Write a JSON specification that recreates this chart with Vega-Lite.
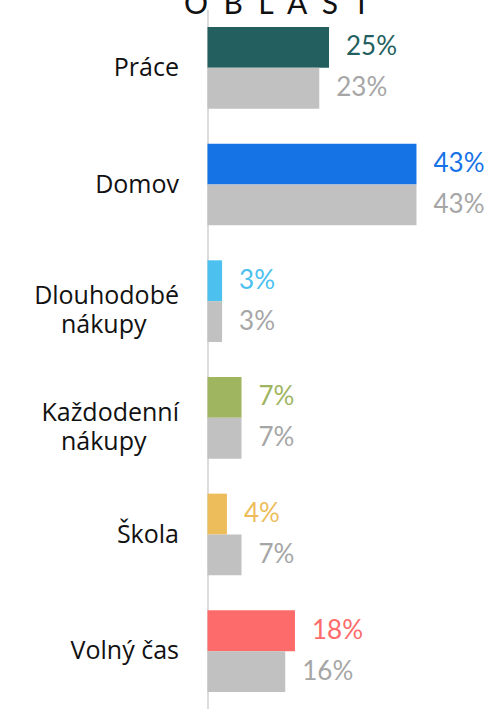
{
  "$schema": "https://vega.github.io/schema/vega-lite/v6.json",
  "width": 243,
  "height": 700,
  "autosize": {"type": "none"},
  "padding": {"left": 207.5, "top": 9.5, "right": 39.5, "bottom": 0},
  "background": "white",
  "config": {"view": {"stroke": null}, "font": "Lato"},
  "data": {
    "values": [
      {"oblast": "Práce", "serie": "aktuální", "value": 0.25},
      {"oblast": "Práce", "serie": "srovnání", "value": 0.23},
      {"oblast": "Domov", "serie": "aktuální", "value": 0.43},
      {"oblast": "Domov", "serie": "srovnání", "value": 0.43},
      {"oblast": "Dlouhodobé nákupy", "serie": "aktuální", "value": 0.03},
      {"oblast": "Dlouhodobé nákupy", "serie": "srovnání", "value": 0.03},
      {"oblast": "Každodenní nákupy", "serie": "aktuální", "value": 0.07},
      {"oblast": "Každodenní nákupy", "serie": "srovnání", "value": 0.07},
      {"oblast": "Škola", "serie": "aktuální", "value": 0.04},
      {"oblast": "Škola", "serie": "srovnání", "value": 0.07},
      {"oblast": "Volný čas", "serie": "aktuální", "value": 0.18},
      {"oblast": "Volný čas", "serie": "srovnání", "value": 0.16}
    ]
  },
  "encoding": {
    "y": {
      "field": "oblast",
      "type": "nominal",
      "sort": null,
      "scale": {"paddingInner": 0.3, "paddingOuter": 0.15},
      "axis": {
        "title": null,
        "domainColor": "#dcdcdc",
        "domainWidth": 2,
        "ticks": false,
        "grid": false,
        "labelPadding": 29,
        "labelFontSize": 25,
        "labelFont": "Open Sans",
        "labelColor": "#111111",
        "labelLineHeight": 29,
        "labelLimit": 0,
        "labelOffset": {"condition": {"test": "indexof(datum.value, ' nákupy') > 0", "value": -5}, "value": 0},
        "labelExpr": "indexof(datum.value, ' nákupy') > 0 ? [replace(datum.value, ' nákupy', ''), 'nákupy\u00a0\u00a0\u00a0\u00a0\u00a0\u200b'] : datum.value"
      }
    },
    "yOffset": {"field": "serie", "type": "nominal", "sort": ["aktuální", "srovnání"]},
    "x": {
      "field": "value",
      "type": "quantitative",
      "scale": {"domain": [0, 0.5]},
      "axis": {
        "orient": "top",
        "domain": false,
        "ticks": false,
        "labels": false,
        "grid": false,
        "title": "O\u00a0 B\u00a0 L\u00a0 A\u00a0 S\u00a0 T",
        "titleX": -24,
        "titleY": 4,
        "titleAlign": "left",
        "titleAnchor": "start",
        "titleBaseline": "alphabetic",
        "titleFontSize": 30,
        "titleFontWeight": 400,
        "titleFont": "Lato",
        "titleColor": "#111111"
      }
    }
  },
  "layer": [
    {
      "mark": {"type": "bar"},
      "encoding": {
        "color": {
          "condition": {"test": "datum.serie == 'srovnání'", "value": "#c1c1c1"},
          "field": "oblast",
          "type": "nominal",
          "scale": {
            "domain": ["Práce", "Domov", "Dlouhodobé nákupy", "Každodenní nákupy", "Škola", "Volný čas"],
            "range": ["#245f5f", "#1673e6", "#4cc0ef", "#a0b560", "#edbd5b", "#fe6b6b"]
          },
          "legend": null
        }
      }
    },
    {
      "mark": {"type": "text", "align": "left", "baseline": "middle", "dx": 17, "fontSize": 26, "fontWeight": 400, "font": "Lato"},
      "encoding": {
        "text": {"field": "value", "type": "quantitative", "format": ".0%"},
        "color": {
          "condition": {"test": "datum.serie == 'srovnání'", "value": "#a6a6a6"},
          "field": "oblast",
          "type": "nominal",
          "scale": {
            "domain": ["Práce", "Domov", "Dlouhodobé nákupy", "Každodenní nákupy", "Škola", "Volný čas"],
            "range": ["#245f5f", "#1673e6", "#4cc0ef", "#a0b560", "#edbd5b", "#fe6b6b"]
          },
          "legend": null
        }
      }
    }
  ]
}
